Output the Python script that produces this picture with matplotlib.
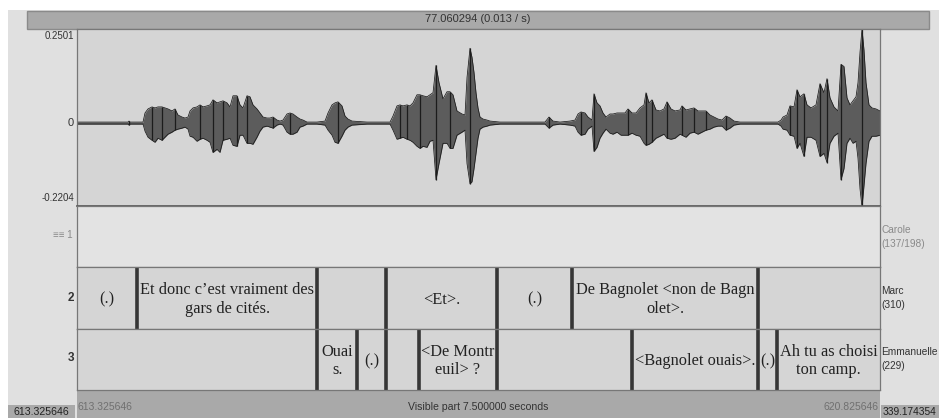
import matplotlib
matplotlib.use("Agg")
import matplotlib.pyplot as plt
from matplotlib.patches import Rectangle

# Waveform envelope: display sample, upper and lower extent
# (one sample = 7.5 s / 803, one count = 1 / 372 of amplitude)
wave_sample = [0,51,52,53,66,68,71,75,78,81,85,88,91,95,98,101,105,108,111,113,116,120,123,126,130,133,136,140,143,146,150,153,156,160,163,166,170,173,176,180,183,186,190,193,196,200,203,206,210,213,216,220,223,226,230,240,248,251,255,258,261,265,268,271,275,290,313,316,320,323,326,330,333,336,340,343,346,350,353,356,359,362,366,370,373,376,380,385,388,390,393,395,397,399,401,403,406,410,413,423,468,472,476,483,493,498,501,504,508,511,515,517,520,523,526,529,533,536,540,544,548,551,555,559,563,567,569,572,575,579,583,587,590,594,598,603,605,609,613,617,621,625,629,633,637,641,645,649,653,657,663,701,704,706,710,713,717,720,723,727,730,734,739,743,747,750,753,757,761,764,767,770,773,776,779,781,783,785,787,789,792,795,799,803]
wave_hi = [1,1,2,1,1,10,14,16,15,16,16,15,14,12,14,8,6,5,6,12,15,16,18,16,17,18,23,20,21,22,20,16,27,27,18,15,27,26,18,14,10,6,5,5,6,3,2,3,9,10,9,6,4,3,1,1,2,10,18,20,21,17,7,4,2,1,1,7,17,18,17,18,17,20,28,28,27,26,28,30,57,40,24,31,31,28,12,9,8,45,74,65,50,30,15,6,4,3,2,1,1,6,2,1,2,3,9,11,10,6,3,29,20,17,10,6,9,9,10,10,10,14,10,10,15,18,30,20,23,13,12,14,21,14,12,13,17,13,14,15,12,12,12,8,6,4,3,7,5,2,1,1,3,6,8,17,16,33,26,29,18,15,18,39,30,44,25,16,12,58,56,25,18,22,26,40,70,93,72,40,18,15,14,12]
wave_lo = [1,1,2,1,1,8,14,17,19,15,17,14,11,9,7,6,5,4,6,13,14,18,16,15,17,19,29,26,29,17,16,15,22,23,12,12,20,20,21,14,8,4,3,4,5,2,1,2,9,11,11,9,4,3,1,1,2,7,12,19,20,13,7,4,2,1,1,7,16,15,14,16,17,19,23,25,23,24,18,17,56,40,20,20,25,25,12,9,7,40,60,58,45,30,15,6,4,3,2,1,1,5,2,1,2,3,9,12,11,6,3,28,24,15,10,6,10,11,9,12,12,12,10,12,13,20,22,21,19,15,13,11,15,16,15,11,12,14,10,9,11,9,7,6,4,3,3,7,5,2,1,1,3,6,7,12,13,25,20,33,14,14,17,33,30,39,20,13,10,56,45,20,15,20,18,35,65,83,62,40,18,13,13,12]

# Annotation tiers: interval boundaries (seconds) and interval labels
tier2_bounds = [0.0, 0.565, 2.246, 2.886, 3.920, 4.623, 6.360, 7.5]
tier2_labels = ["(.)", "Et donc c’est vraiment des\ngars de cités.", "", "<Et>.", "(.)",
                "De Bagnolet <non de Bagn\nolet>.", ""]
tier3_bounds = [0.0, 2.246, 2.615, 2.886, 3.194, 3.920, 5.183, 6.360, 6.538, 7.5]
tier3_labels = ["", "Ouai\ns.", "(.)", "", "<De Montr\neuil> ?", "", "<Bagnolet ouais>.", "(.)",
                "Ah tu as choisi\nton camp."]
speakers = ["Carole\n(137/198)", "Marc\n(310)", "Emmanuelle\n(229)"]

W, H = 939, 418
L, R = 77, 880
SANS = ["Liberation Sans", "DejaVu Sans"]
SERIF = ["Liberation Serif", "DejaVu Serif"]
BAR = "#a9a9a9"

fig = plt.figure(figsize=(W / 100, H / 100), dpi=100, facecolor="white")

bg = fig.add_axes([0, 0, 1, 1])
bg.set_xlim(0, W)
bg.set_ylim(H, 0)
bg.axis("off")
bg.add_patch(Rectangle((8, 10), W - 8, H - 10, fc="#e0e0e0", ec="none"))
bg.add_patch(Rectangle((27, 11), 902, 18, fc=BAR, ec="#8a8a8a", lw=1))
bg.add_patch(Rectangle((L, 390), R - L, 28, fc=BAR, ec="none"))
bg.add_patch(Rectangle((8, 405), L - 10, 13, fc=BAR, ec="none"))
bg.add_patch(Rectangle((R + 1, 405), W - R, 13, fc=BAR, ec="none"))


def panel(top, bottom, color):
    ax = fig.add_axes([L / W, 1 - bottom / H, (R - L) / W, (bottom - top) / H], facecolor=color)
    ax.set_xlim(0, 7.5)
    ax.set_xticks([])
    ax.set_yticks([])
    for s in ax.spines.values():
        s.set_color("#777777")
        s.set_linewidth(0.9)
    return ax


# Waveform
ax = panel(29, 206, "#d5d5d5")
ax.set_ylim(-0.2204, 0.2501)
times = [s * 7.5 / 803 for s in wave_sample]
hi = [v / 372 for v in wave_hi]
lo = [-v / 372 for v in wave_lo]
ax.fill_between(times, lo, hi, color="#5c5c5c", lw=0)
ax.plot(times, hi, color="#1a1a1a", lw=0.55)
ax.plot(times, lo, color="#1a1a1a", lw=0.55)
peaks = [i for i in range(1, len(hi) - 1)
         if wave_hi[i] >= wave_hi[i - 1] and wave_hi[i] > wave_hi[i + 1]]
ax.vlines([times[i] for i in peaks], [lo[i] for i in peaks], [hi[i] for i in peaks],
          color="#1c1c1c", lw=0.9)
ax.spines["bottom"].set_color("#555555")
ax.spines["bottom"].set_linewidth(1.2)


def tier(top, bottom, color, bounds=None, labels=None):
    t = panel(top, bottom, color)
    t.set_ylim(0, 1)
    if bounds is None:
        return
    t.vlines(bounds[1:-1], 0, 1, color="#363636", lw=2.6)
    for a, b, s in zip(bounds[:-1], bounds[1:], labels):
        if s:
            t.text((a + b) / 2, 0.475, s, ha="center", va="center", family=SERIF,
                   fontsize=11.8, color="#222222", linespacing=1.2)


tier(206, 267, "#e3e3e3")
tier(267, 329, "#d5d5d5", tier2_bounds, tier2_labels)
tier(329, 390, "#d5d5d5", tier3_bounds, tier3_labels)

over = fig.add_axes([0, 0, 1, 1], facecolor="none")
over.set_xlim(0, W)
over.set_ylim(H, 0)
over.axis("off")


def label(x, y, s, ha="left", size=7, color="#333333", **kw):
    over.text(x, y, s, ha=ha, va="center", family=SANS, fontsize=size, color=color, **kw)


label(478, 19, "77.060294 (0.013 / s)", ha="center", size=8)
label(74, 36, "0.2501", ha="right", size=7)
label(74, 123, "0", ha="right", size=8)
label(74, 198, "-0.2204", ha="right", size=7)
label(73, 235, "≡≡ 1", ha="right", size=7, color="#8a8a8a")
label(74, 298, "2", ha="right", size=8.5, fontweight="bold")
label(74, 358, "3", ha="right", size=8.5, fontweight="bold")

for y, s, c in zip([237, 298, 359], speakers, ["#8a8a8a", "#333333", "#333333"]):
    label(881, y, s, size=7.3, color=c, linespacing=1.45)

label(78, 407, "613.325646", size=7.5, color="#707070")
label(478, 407, "Visible part 7.500000 seconds", ha="center", size=7.6)
label(878, 407, "620.825646", ha="right", size=7.5, color="#707070")
label(13, 412, "613.325646", size=7.6, color="#222222")
label(883, 412, "339.174354", size=7.3, color="#222222")

fig.savefig("out.png", dpi=100, facecolor="white")
